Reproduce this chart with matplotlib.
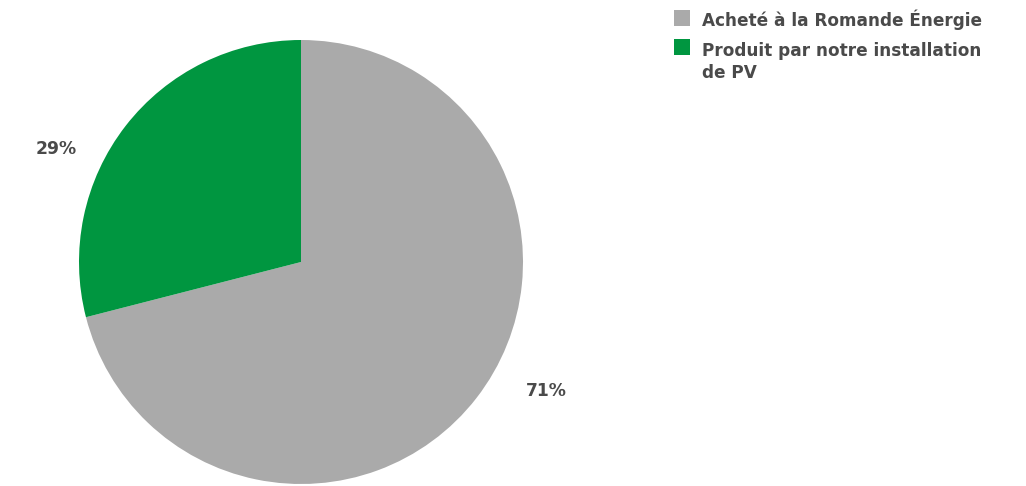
import matplotlib.pyplot as plt
from matplotlib.patches import Rectangle

labels = ["Acheté à la Romande Énergie", "Produit par notre installation\nde PV"]
values = [71, 29]
colors = ["#aaaaaa", "#009640"]

text_col = "#4a4a4a"
font = ["DejaVu Sans"]
W, H = 1026, 486

fig = plt.figure(figsize=(W / 100, H / 100), dpi=100)
ax = fig.add_axes([79 / W, 2 / H, 444 / W, 444 / H])

wedges, _ = ax.pie(values, colors=colors, startangle=90, counterclock=False,
                   radius=1, wedgeprops=dict(linewidth=0))
ax.set_xlim(-1, 1)
ax.set_ylim(-1, 1)
ax.set_aspect("equal")
ax.axis("off")

# percent labels outside the pie
pos = [(1.105, -0.58), (-1.105, 0.51)]
for v, (x, y) in zip(values, pos):
    ax.text(x, y, f"{v}%", ha="center", va="center", fontsize=12.3,
            fontweight="bold", color=text_col, family=font)

# legend drawn by hand so the swatch lines up with the first text line
sq_top = [10, 39]
line_h = 22  # px between baselines
for lab, c, top in zip(labels, colors, sq_top):
    fig.patches.append(Rectangle((674 / W, 1 - (top + 16) / H), 16 / W, 16 / H,
                                 transform=fig.transFigure, facecolor=c, edgecolor="none"))
    # baseline alignment on a multiline text uses the last line
    n_extra = lab.count("\n")
    base = top + 16.5 + n_extra * line_h
    fig.text(702 / W, 1 - base / H, lab, ha="left", va="baseline",
             fontsize=12.2, fontweight="bold", color=text_col, family=font,
             linespacing=1.24)

fig.savefig("out.png", dpi=100)
